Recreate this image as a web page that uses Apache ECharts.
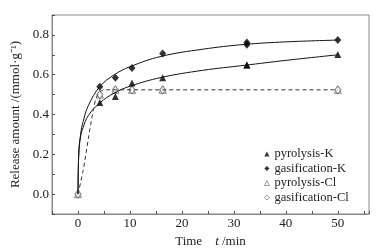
<!DOCTYPE html>
<html>
<head>
<meta charset="utf-8">
<script src="https://cdn.jsdelivr.net/npm/echarts@6/dist/echarts.min.js"></script>
<style>
  html, body { margin: 0; padding: 0; background: #fff; }
  #chart { width: 384px; height: 248px; }
</style>
</head>
<body>
<div id="chart"></div>
<script>
// measured points (time in min, release in mmol/g)
const timePts = [4.2, 7.2, 10.4, 16.3, 32.5, 32.5, 50];
const pyrolysisK = [0.46, 0.49, 0.558, 0.585, 0.649, 0.649, 0.702];
const gasificationK = [0.54, 0.585, 0.634, 0.707, 0.75, 0.762, 0.774];
const timeCl = [0, 4.2, 7.2, 10.4, 16.3, 50];
const pyrolysisCl = [0, 0.5, 0.524, 0.524, 0.524, 0.524];
const gasificationCl = [0, 0.5, 0.524, 0.524, 0.524, 0.524];

// fitted curves
const fitT = [0, 0.15, 0.5, 1, 2, 4.2, 7, 10, 16, 24, 32, 40, 50];
const fitGasK = [0, 0.2, 0.3, 0.365, 0.445, 0.54, 0.6, 0.64, 0.692, 0.728, 0.752, 0.765, 0.774];
const fitPyrK = [0, 0.2, 0.29, 0.335, 0.395, 0.458, 0.508, 0.542, 0.586, 0.622, 0.647, 0.672, 0.7];
const dashT = [0, 1, 2, 3, 3.6, 4.3, 5, 50];
const dashCl = [0, 0.12, 0.28, 0.43, 0.49, 0.515, 0.524, 0.524];

const yTicks = ['0.0', '0.2', '0.4', '0.6', '0.8'];

const font = "'Liberation Serif', 'Times New Roman', serif";
const pair = (xs, ys) => xs.map((x, i) => [x, ys[i]]);
const hollow = { color: '#fff', borderColor: '#666', borderWidth: 0.8 };

let myChart = echarts.init(document.getElementById('chart'));
let option = {
  animation: false,
  textStyle: { fontFamily: font },
  grid: {
    left: 52, top: 15, right: 15, bottom: 34,
    outerBoundsMode: 'none',
    show: true, borderColor: '#888', borderWidth: 1
  },
  legend: {
    orient: 'vertical',
    left: 259,
    top: 142,
    itemWidth: 5,
    itemHeight: 5,
    itemGap: 0.5,
    textStyle: { fontFamily: font, fontSize: 12.5, color: '#222', lineHeight: 14 },
    data: [
      'pyrolysis-K',
      'gasification-K',
      { name: 'pyrolysis-Cl', itemStyle: hollow },
      { name: 'gasification-Cl', itemStyle: hollow }
    ]
  },
  xAxis: {
    type: 'value',
    min: -5,
    max: 56,
    interval: 5,
    name: 'Time    {i|t} /min',
    nameLocation: 'middle',
    nameGap: 21,
    nameTextStyle: {
      fontFamily: font, fontSize: 13, color: '#222',
      rich: { i: { fontFamily: font, fontSize: 13, fontStyle: 'italic', color: '#222' } }
    },
    axisLine: { onZero: false, lineStyle: { color: '#888' } },
    axisTick: { inside: true, length: 3, lineStyle: { color: '#555' } },
    axisLabel: {
      fontFamily: font, fontSize: 13, color: '#222', margin: 3,
      formatter: function (v) {
        return (v % 10 === 0 && v >= 0 && v <= 50) ? String(v) : '';
      }
    },
    splitLine: { show: false }
  },
  yAxis: {
    type: 'value',
    min: -0.1,
    max: 0.9,
    interval: 0.1,
    name: 'Release amount /(mmol·g⁻¹)',
    nameLocation: 'middle',
    nameGap: 29,
    nameTextStyle: { fontFamily: font, fontSize: 13, color: '#222' },
    axisLine: { onZero: false, lineStyle: { color: '#888' } },
    axisTick: { inside: true, length: 3, lineStyle: { color: '#555' } },
    axisLabel: {
      fontFamily: font, fontSize: 13, color: '#222', margin: 3,
      formatter: function (v) {
        let k = Math.round(v * 10);
        return (k >= 0 && k % 2 === 0 && k <= 8) ? yTicks[k / 2] : '';
      }
    },
    splitLine: { show: false }
  },
  series: [
    {
      name: 'fitGasK', type: 'line', smooth: 0.4, showSymbol: false, silent: true,
      lineStyle: { color: '#111', width: 1 }, data: pair(fitT, fitGasK)
    },
    {
      name: 'fitPyrK', type: 'line', smooth: 0.4, showSymbol: false, silent: true,
      lineStyle: { color: '#111', width: 1 }, data: pair(fitT, fitPyrK)
    },
    {
      name: 'dashCl', type: 'line', smooth: 0.3, showSymbol: false, silent: true,
      lineStyle: { color: '#333', width: 1, type: [4, 3] }, data: pair(dashT, dashCl)
    },
    {
      name: 'pyrolysis-Cl', type: 'scatter', symbol: 'triangle', symbolSize: 7,
      itemStyle: { color: '#fff', borderColor: '#666', borderWidth: 1 },
      data: pair(timeCl, pyrolysisCl)
    },
    {
      name: 'gasification-Cl', type: 'scatter', symbol: 'diamond', symbolSize: [6, 8],
      itemStyle: { color: '#fff', borderColor: '#666', borderWidth: 1 },
      data: pair(timeCl, gasificationCl)
    },
    {
      name: 'pyrolysis-K', type: 'scatter', symbol: 'triangle', symbolSize: 7,
      itemStyle: { color: '#000' }, data: pair(timePts, pyrolysisK)
    },
    {
      name: 'gasification-K', type: 'scatter', symbol: 'diamond', symbolSize: [7, 8],
      itemStyle: { color: '#000' }, data: pair(timePts, gasificationK)
    }
  ]
};
myChart.setOption(option);
</script>
</body>
</html>
